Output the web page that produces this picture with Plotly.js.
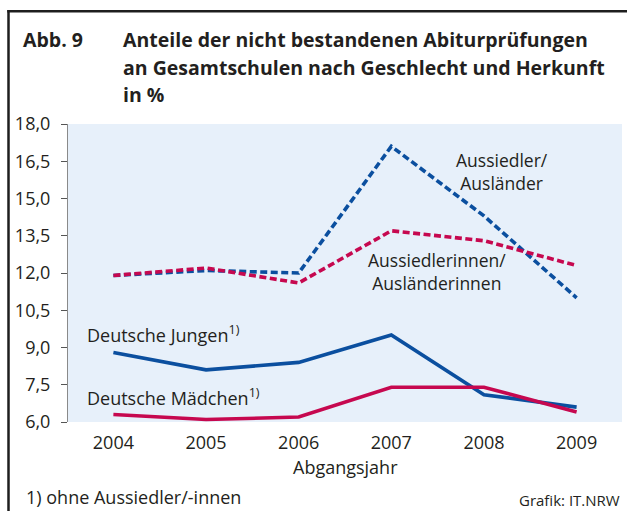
<!DOCTYPE html>
<html>
<head>
<meta charset="utf-8">
<script src="https://cdn.plot.ly/plotly-3.0.1.min.js"></script>
<style>html,body{margin:0;padding:0;background:#fff;}#chart{width:627px;height:511px;}</style>
</head>
<body>
<div id="chart"></div>
<script>
// Data
const years = ['2004', '2005', '2006', '2007', '2008', '2009'];
const aussiedlerMaennlich = [11.9, 12.1, 12.0, 17.1, 14.3, 11.0];
const aussiedlerWeiblich = [11.9, 12.2, 11.6, 13.7, 13.3, 12.3];
const deutscheJungen = [8.8, 8.1, 8.4, 9.5, 7.1, 6.6];
const deutscheMaedchen = [6.3, 6.1, 6.2, 7.4, 7.4, 6.4];
const yTickVals = [6, 7.5, 9, 10.5, 12, 13.5, 15, 16.5, 18];
const yTickText = ['6,0', '7,5', '9,0', '10,5', '12,0', '13,5', '15,0', '16,5', '18,0'];

const BLUE = '#0b4f9f';
const PINK = '#c6084f';
const TXT = '#231f20';
const FONT = 'Open Sans, Noto Sans, sans-serif';

const W = 627, H = 511;
const L = 68, R = 622, T = 124, B = 422;
const px = x => (x - L) / (R - L);
const py = y => (B - y) / (B - T);

const traces = [
  {x: years, y: aussiedlerMaennlich, mode: 'lines', line: {color: BLUE, width: 3.6, dash: '7px,3.5px'}, hoverinfo: 'skip'},
  {x: years, y: aussiedlerWeiblich, mode: 'lines', line: {color: PINK, width: 3.6, dash: '7px,3.5px'}, hoverinfo: 'skip'},
  {x: years, y: deutscheJungen, mode: 'lines', line: {color: BLUE, width: 3.6}, hoverinfo: 'skip'},
  {x: years, y: deutscheMaedchen, mode: 'lines', line: {color: PINK, width: 3.6}, hoverinfo: 'skip'}
];

function ann(text, x, y, opts) {
  return Object.assign({
    text: text, xref: 'paper', yref: 'paper', x: px(x), y: py(y),
    xanchor: 'left', yanchor: 'middle', showarrow: false,
    font: {family: FONT, size: 18, color: TXT}
  }, opts || {});
}

const titleFont = {family: FONT, size: 19.5, color: TXT, weight: 'bold'};
const labelFont = {family: FONT, size: 17.5, color: TXT};

const layout = {
  width: W, height: H,
  margin: {l: L, r: W - R, t: T, b: H - B, pad: 0},
  paper_bgcolor: '#ffffff',
  plot_bgcolor: '#e7f0fa',
  showlegend: false,
  font: {family: FONT, color: TXT},
  xaxis: {
    type: 'category',
    range: [-0.49, 5.49],
    showgrid: false, zeroline: false, showline: false,
    ticks: '', ticklabelstandoff: 8,
    tickfont: {family: FONT, size: 18, color: TXT},
    fixedrange: true
  },
  yaxis: {
    range: [6, 18],
    tickvals: yTickVals, ticktext: yTickText,
    showgrid: false, zeroline: false,
    showline: true, linecolor: '#8a8a8a', linewidth: 1,
    ticks: 'outside', ticklen: 6, tickcolor: '#555', tickwidth: 1,
    ticklabelstandoff: 7,
    tickfont: {family: FONT, size: 18, color: TXT},
    fixedrange: true
  },
  shapes: [
    {type: 'line', xref: 'paper', yref: 'paper', x0: px(8.5), x1: px(8.5), y0: py(10), y1: py(520), line: {color: '#1e1e1e', width: 2.5}},
    {type: 'line', xref: 'paper', yref: 'paper', x0: px(7.3), x1: px(640), y0: py(11.3), y1: py(11.3), line: {color: '#1e1e1e', width: 2.5}}
  ],
  annotations: [
    ann('<b>Abb. 9</b>', 21, 40, {font: titleFont}),
    ann('<b>Anteile der nicht bestandenen Abiturprüfungen</b>', 121, 40, {font: titleFont}),
    ann('<b>an Gesamtschulen nach Geschlecht und Herkunft</b>', 121, 67, {font: titleFont}),
    ann('<b>in %</b>', 121, 94, {font: titleFont}),
    ann('Aussiedler/<br>Ausländer', 502, 171, {xanchor: 'center', align: 'center', font: labelFont}),
    ann('Aussiedlerinnen/<br>Ausländerinnen', 437, 271.5, {xanchor: 'center', align: 'center', font: labelFont}),
    ann('Deutsche Jungen<sup>1)</sup>', 85, 334),
    ann('Deutsche Mädchen<sup>1)</sup>', 85, 397),
    ann('Abgangsjahr', 345, 467, {xanchor: 'center'}),
    ann('1) ohne Aussiedler/-innen', 24, 497),
    ann('Grafik: IT.NRW', 622, 500, {xanchor: 'right', font: {family: FONT, size: 15, color: TXT}})
  ]
};

Plotly.newPlot('chart', traces, layout, {staticPlot: true, displayModeBar: false});
</script>
</body>
</html>
